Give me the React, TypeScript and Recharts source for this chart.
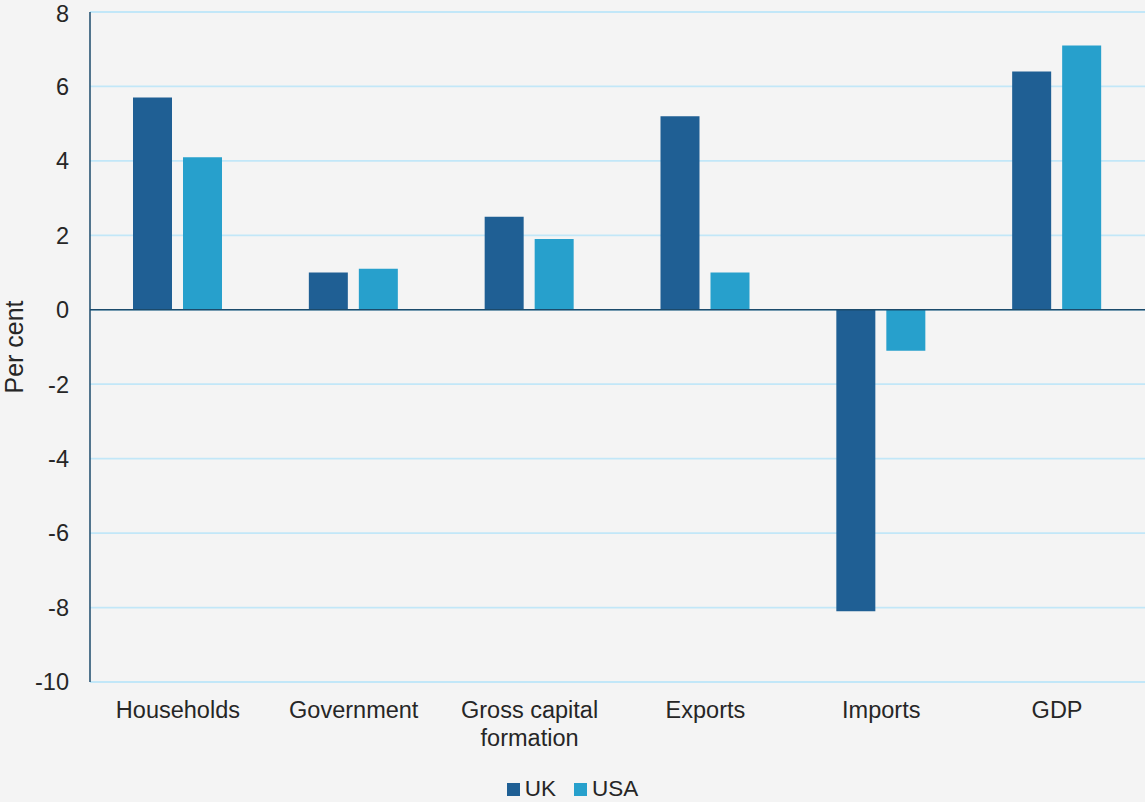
import {
  BarChart,
  Bar,
  XAxis,
  YAxis,
  CartesianGrid,
  Legend,
  ReferenceLine,
  Text,
} from "recharts";

const categories = ["Households", "Government", "Gross capital formation", "Exports", "Imports", "GDP"];
const ukValues = [5.7, 1.0, 2.5, 5.2, -8.1, 6.4];
const usaValues = [4.1, 1.1, 1.9, 1.0, -1.1, 7.1];
const yTicks = [-10, -8, -6, -4, -2, 0, 2, 4, 6, 8];

const data = categories.map((name, i) => ({
  name,
  UK: ukValues[i],
  USA: usaValues[i],
}));

const FONT = "'Liberation Sans', Arial, sans-serif";
const TEXT = "#262626";
const AXIS = "#1b4a6b";
const FS = 23.5;

const XTick = (props: any) => {
  const { x, y, payload } = props;
  return (
    <Text
      x={x}
      y={y + 19}
      width={150}
      textAnchor="middle"
      verticalAnchor="start"
      lineHeight={28}
      fontSize={FS}
      fontFamily={FONT}
      fill={TEXT}
    >
      {payload.value}
    </Text>
  );
};

const YLabel = (props: any) => {
  const vb = props.viewBox;
  const cx = vb.x + 14;
  const cy = vb.y + vb.height / 2;
  return (
    <text
      x={cx}
      y={cy}
      transform={`rotate(-90, ${cx}, ${cy})`}
      textAnchor="middle"
      dominantBaseline="central"
      fontSize={25}
      fontFamily={FONT}
      fill={TEXT}
    >
      Per cent
    </text>
  );
};

const LegendContent = (props: any) => {
  const { payload } = props;
  return (
    <div style={{ display: "flex", justifyContent: "center", alignItems: "center", height: 26 }}>
      {payload.map((entry: any, i: number) => (
        <div
          key={entry.value}
          style={{ display: "flex", alignItems: "center", marginLeft: i === 0 ? 0 : 18 }}
        >
          <span style={{ display: "inline-block", width: 13, height: 13, background: entry.color, marginRight: 5 }} />
          <span style={{ fontSize: 22.5, fontFamily: FONT, color: TEXT, lineHeight: "26px" }}>{entry.value}</span>
        </div>
      ))}
    </div>
  );
};

export default function App() {
  return (
    <div style={{ position: "absolute", top: 0, left: 0, width: 1145, height: 802, background: "#f4f4f4" }}>
      <BarChart
        width={1145}
        height={802}
        data={data}
        margin={{ top: 12, right: 0, bottom: 0, left: 0 }}
        barSize={39}
        barGap={11}
      >
        <CartesianGrid vertical={false} stroke="#c2e7f8" strokeWidth={1.8} />
        <XAxis
          dataKey="name"
          axisLine={false}
          tickLine={false}
          tickSize={0}
          tickMargin={0}
          height={94}
          interval={0}
          tick={<XTick />}
        />
        <YAxis
          domain={[-10, 8]}
          ticks={yTicks}
          width={90}
          axisLine={{ stroke: AXIS, strokeWidth: 1.5 }}
          tickLine={false}
          tickSize={0}
          tickMargin={21}
          tick={{ fontSize: FS, fontFamily: FONT, fill: TEXT }}
          label={<YLabel />}
        />
        <ReferenceLine y={0} stroke={AXIS} strokeWidth={1.5} />
        <Legend verticalAlign="bottom" align="center" content={<LegendContent />} />
        <Bar dataKey="UK" fill="#1f5f94" isAnimationActive={false} />
        <Bar dataKey="USA" fill="#27a0cc" isAnimationActive={false} />
      </BarChart>
    </div>
  );
}
